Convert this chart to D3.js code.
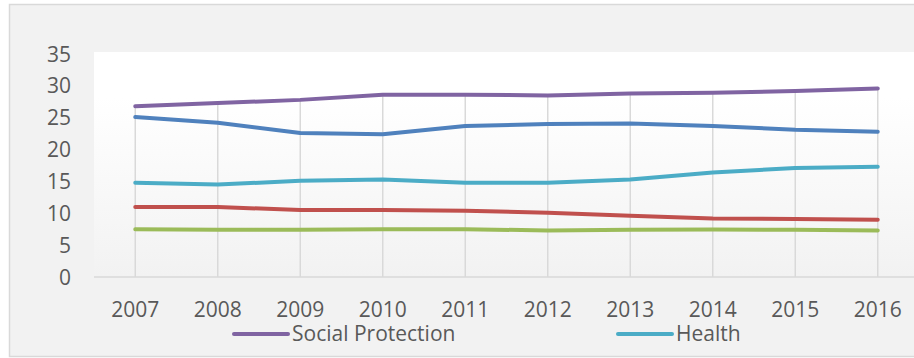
<!DOCTYPE html>
<html lang="en">
<head>
    <meta charset="UTF-8">
    <title>Expenditure by function</title>
    <script src="https://d3js.org/d3.v7.min.js"></script>
    <style>
        body, html {
            margin: 0;
            padding: 0;
            background-color: #ffffff;
            font-family: 'Open Sans', sans-serif;
        }
        svg { display: block; }
        .tick-label { fill: #595959; font-size: 21px; }
    </style>
</head>
<body>
<svg id="chart" width="914" height="358"></svg>

<script>
    const years = ['2007', '2008', '2009', '2010', '2011', '2012', '2013', '2014', '2015', '2016'];
    const yTicks = [0, 5, 10, 15, 20, 25, 30, 35];

    const socialProtection = [26.8, 27.3, 27.8, 28.6, 28.6, 28.5, 28.8, 28.9, 29.2, 29.6];
    const blueSeries = [25.1, 24.2, 22.6, 22.4, 23.7, 24.0, 24.1, 23.7, 23.1, 22.8];
    const health = [14.8, 14.5, 15.1, 15.3, 14.8, 14.8, 15.3, 16.4, 17.1, 17.3];
    const redSeries = [11.0, 11.0, 10.5, 10.5, 10.4, 10.1, 9.6, 9.2, 9.1, 9.0];
    const greenSeries = [7.5, 7.4, 7.4, 7.5, 7.5, 7.3, 7.4, 7.45, 7.4, 7.3];

    const series = [
        { name: 'Social Protection', values: socialProtection, color: '#8064a2' },
        { name: 'Series 2', values: blueSeries, color: '#4f81bd' },
        { name: 'Health', values: health, color: '#4bacc6' },
        { name: 'Series 4', values: redSeries, color: '#c0504d' },
        { name: 'Series 5', values: greenSeries, color: '#9bbb59' }
    ];
    const legendItems = [
        { name: 'Social Protection', color: '#8064a2', x: 234 },
        { name: 'Health', color: '#4bacc6', x: 618 }
    ];

    const svg = d3.select('#chart');
    const plot = { left: 94, right: 919, top: 52, bottom: 277 };

    // chart background and border
    svg.append('rect')
        .attr('x', 9.5).attr('y', 4.5)
        .attr('width', 920).attr('height', 352)
        .attr('fill', '#f2f2f2')
        .attr('stroke', '#d9d9d9')
        .attr('stroke-width', 1.5);

    const defs = svg.append('defs');
    const grad = defs.append('linearGradient')
        .attr('id', 'plotGrad')
        .attr('x1', 0).attr('y1', 0).attr('x2', 0).attr('y2', 1);
    grad.append('stop').attr('offset', '0%').attr('stop-color', '#ffffff');
    grad.append('stop').attr('offset', '20%').attr('stop-color', '#ffffff');
    grad.append('stop').attr('offset', '100%').attr('stop-color', '#f2f2f2');

    svg.append('rect')
        .attr('x', plot.left).attr('y', plot.top)
        .attr('width', plot.right - plot.left)
        .attr('height', plot.bottom - plot.top)
        .attr('fill', 'url(#plotGrad)');

    const x = d3.scalePoint().domain(years).range([plot.left, plot.right]).padding(0.5);
    const y = d3.scaleLinear().domain([0, 35]).range([plot.bottom, 54]);

    // drop lines from the highest point down to the axis
    svg.append('g').selectAll('line')
        .data(years)
        .join('line')
        .attr('x1', d => x(d)).attr('x2', d => x(d))
        .attr('y1', (d, i) => y(d3.max(series, s => s.values[i])))
        .attr('y2', y(0))
        .attr('stroke', '#d9d9d9')
        .attr('stroke-width', 1.5);

    // x axis line
    svg.append('line')
        .attr('x1', plot.left).attr('x2', plot.right)
        .attr('y1', y(0)).attr('y2', y(0))
        .attr('stroke', '#d9d9d9')
        .attr('stroke-width', 1.5);

    // y tick labels
    svg.append('g').selectAll('text')
        .data(yTicks)
        .join('text')
        .attr('class', 'tick-label')
        .attr('x', 71)
        .attr('y', d => y(d))
        .attr('dy', '0.36em')
        .attr('text-anchor', 'end')
        .text(d => d);

    // x tick labels
    svg.append('g').selectAll('text')
        .data(years)
        .join('text')
        .attr('class', 'tick-label')
        .attr('x', d => x(d))
        .attr('y', 317)
        .attr('text-anchor', 'middle')
        .text(d => d);

    const line = d3.line()
        .x((d, i) => x(years[i]))
        .y(d => y(d));

    svg.append('g').selectAll('path')
        .data(series)
        .join('path')
        .attr('d', d => line(d.values))
        .attr('fill', 'none')
        .attr('stroke', d => d.color)
        .attr('stroke-width', 4)
        .attr('stroke-linecap', 'round')
        .attr('stroke-linejoin', 'round');

    // legend (only first row visible)
    const legend = svg.append('g').selectAll('g')
        .data(legendItems)
        .join('g');
    legend.append('line')
        .attr('x1', d => d.x).attr('x2', d => d.x + 54)
        .attr('y1', 334).attr('y2', 334)
        .attr('stroke', d => d.color)
        .attr('stroke-width', 4)
        .attr('stroke-linecap', 'round');
    legend.append('text')
        .attr('class', 'tick-label')
        .attr('x', d => d.x + 58)
        .attr('y', 341)
        .text(d => d.name);
</script>
</body>
</html>
